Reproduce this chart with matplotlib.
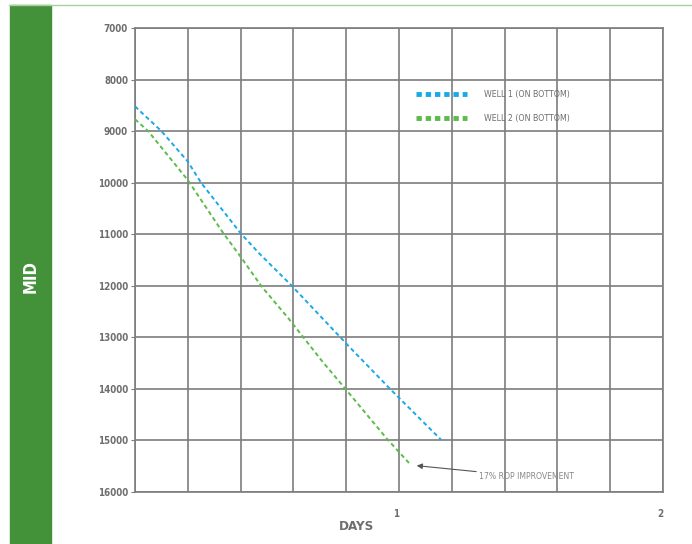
import matplotlib
matplotlib.use("Agg")
import matplotlib.pyplot as plt
import matplotlib.patches as patches
import matplotlib.lines as mlines

# data
well1_days = [0.0, 0.10, 0.20, 0.25, 0.40, 0.47, 0.59, 0.80, 0.83, 0.97, 1.16]
well1_depth = [8520, 9000, 9590, 10000, 10980, 11370, 11980, 13120, 13280, 14020, 14990]
well2_days = [0.0, 0.05, 0.20, 0.334, 0.40, 0.48, 0.58, 0.71, 0.795, 0.953, 1.04]
well2_depth = [8770, 9000, 9950, 10976, 11436, 12017, 12624, 13470, 13988, 14960, 15450]
labels = ["WELL 1 (ON BOTTOM)", "WELL 2 (ON BOTTOM)"]
y_ticks = [7000, 8000, 9000, 10000, 11000, 12000, 13000, 14000, 15000, 16000]
x_ticks = [1, 2]
note = "17% ROP IMPROVEMENT"

plt.rcParams['font.family'] = "DejaVu Sans"
plt.rcParams['font.stretch'] = "condensed"

blue = "#19a9e8"
green = "#5dbb4c"
grey = "#6e6e6e"
gridc = "#7d7d7d"

fig = plt.figure(figsize=(6.92, 5.44), dpi=100)
W, H = 692, 544

# green side band and top line
fig.patches.append(patches.Rectangle((10/W, 0), 41/W, 1 - 5/H, transform=fig.transFigure,
                                     color="#43923a", zorder=0))
fig.lines.append(mlines.Line2D([9/W, 1], [1 - 5/H, 1 - 5/H], transform=fig.transFigure,
                               color="#a8d0a0", lw=1))
fig.text(31/W, 1 - 277/H, "MID", rotation=90, color="white", fontsize=12,
         fontweight="bold", ha="center", va="center")

ax = fig.add_axes([135/W, 1 - 492/H, (663-135)/W, (492-28)/H])
ax.set_xlim(0, 2)
ax.set_ylim(16000, 7000)
ax.set_yticks(y_ticks)
ax.set_xticks([0.2*i for i in range(11)], minor=True)
ax.set_xticks(x_ticks)
ax.set_xticklabels([str(t) for t in x_ticks])
for lab in ax.get_xticklabels():
    lab.set_horizontalalignment("right")
ax.grid(True, which="both", axis="x", color=gridc, lw=1.2)
ax.grid(True, which="major", axis="y", color=gridc, lw=1.2)
ax.tick_params(axis="y", length=3, color=gridc, labelcolor=grey, labelsize=7, pad=2)
ax.tick_params(axis="x", which="both", length=0, labelcolor=grey, labelsize=7, pad=12)
for lab in ax.get_yticklabels() + ax.get_xticklabels():
    lab.set_fontweight("bold")
for s in ax.spines.values():
    s.set_color(gridc)
    s.set_linewidth(1.2)
ax.set_axisbelow(True)

ax.plot(well1_days, well1_depth, color=blue, lw=1.4, dashes=(2.2, 1.6), zorder=3)
ax.plot(well2_days, well2_depth, color=green, lw=1.4, dashes=(2.2, 1.6), zorder=3)

h1 = mlines.Line2D([], [], color=blue, lw=3.5, dashes=(1.1, 0.8))
h2 = mlines.Line2D([], [], color=green, lw=3.5, dashes=(1.1, 0.8))
leg = ax.legend([h1, h2], labels, loc="center left",
                bbox_to_anchor=((412-135)/528, 1 - (106.5-28)/464),
                frameon=False, fontsize=6.3, handlelength=5.8, handletextpad=1.9,
                labelspacing=1.7, borderpad=0)
for t in leg.get_texts():
    t.set_color(grey)

ax.annotate(note, xy=(1.067, 15489), xytext=(1.303, 15702), color="#888888",
            fontsize=6.2, va="center", ha="left",
            arrowprops=dict(arrowstyle="-|>", color="#555555", lw=0.8,
                            mutation_scale=8, shrinkA=0, shrinkB=0))

fig.text(356/W, 1 - 527/H, "DAYS", color=grey, fontsize=9.5, fontweight="bold",
         ha="center", va="center")

fig.savefig("out.png", dpi=100)
